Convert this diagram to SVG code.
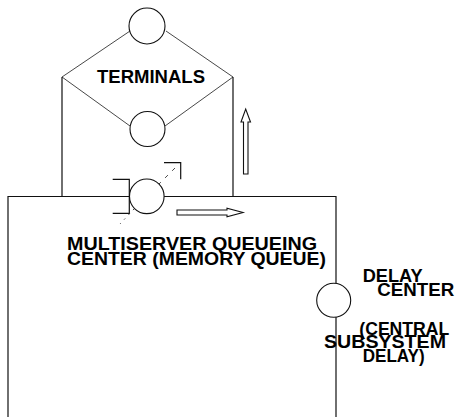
<svg xmlns="http://www.w3.org/2000/svg" width="456" height="417" viewBox="0 0 456 417">
<style>
.ln{fill:none;stroke:#111;stroke-width:1.2}
.thin{fill:none;stroke:#333;stroke-width:0.9}
.node{fill:#fff;stroke:#111;stroke-width:1.1}
.arr{fill:#fff;stroke:#111;stroke-width:1.1}
.t{font-family:"Liberation Sans",Arial,Helvetica,sans-serif;font-weight:bold;font-size:18px;fill:#000}
</style>
<rect width="456" height="417" fill="#fff"/>
<g id="connectors">
  <!-- terminals diamond -->
  <path class="thin" d="M62,77 L130,31 M233,77 L166,31 M62,77 L130,126 M233,77 L165,126"/>
  <!-- verticals from terminals to main loop -->
  <path class="ln" d="M62,77 V196.5 M233,77 V196.5"/>
  <!-- main loop rectangle -->
  <path class="ln" d="M8,420 V196.5 H129.5 M164,196.5 H336 V283 M336,317 V420"/>
  <!-- dashed ticks near multiserver circle -->
  <path class="thin" stroke-dasharray="4,6" d="M158,185 L175,168"/>
  <path class="thin" stroke-dasharray="1.5,5" d="M134,209 L120,224"/>
  <!-- direction arrows -->
  <path class="arr" d="M243.5,174 V122 H241 L245.7,109 L250.5,122 H248 V174 Z"/>
  <path class="arr" d="M177,210 H227 V208.3 L243,212.5 L227,216.7 V215 H177 Z"/>
</g>
<g id="terminals">
  <circle class="node" cx="147" cy="26" r="18"/>
  <circle class="node" cx="147.5" cy="129" r="17.5"/>
  <text class="t" x="151" y="83" text-anchor="middle" textLength="108" lengthAdjust="spacingAndGlyphs">TERMINALS</text>
</g>
<g id="multiserver-queueing-center">
  <circle class="node" cx="146.8" cy="196.3" r="17.3"/>
  <path class="ln" d="M112.7,179.3 H129.3 V213.3 H112.7"/>
  <path class="ln" d="M164,162.7 H180.7 V179.3"/>
  <text class="t" x="67" y="249.5" textLength="250" lengthAdjust="spacingAndGlyphs" font-size="19">MULTISERVER  QUEUEING</text>
  <text class="t" x="67" y="264.5" textLength="259" lengthAdjust="spacingAndGlyphs" font-size="19">CENTER (MEMORY QUEUE)</text>
</g>
<g id="delay-center">
  <circle class="node" cx="333.7" cy="300.3" r="17"/>
  <text class="t" x="362.7" y="281.7" textLength="60" lengthAdjust="spacingAndGlyphs">DELAY</text>
  <text class="t" x="377.3" y="296" textLength="77" lengthAdjust="spacingAndGlyphs">CENTER</text>
  <text class="t" x="359.3" y="335" textLength="90" lengthAdjust="spacingAndGlyphs">(CENTRAL</text>
  <text class="t" x="324" y="348.3" textLength="122" lengthAdjust="spacingAndGlyphs">SUBSYSTEM</text>
  <text class="t" x="362.7" y="361.7" textLength="62" lengthAdjust="spacingAndGlyphs">DELAY)</text>
</g>
</svg>
